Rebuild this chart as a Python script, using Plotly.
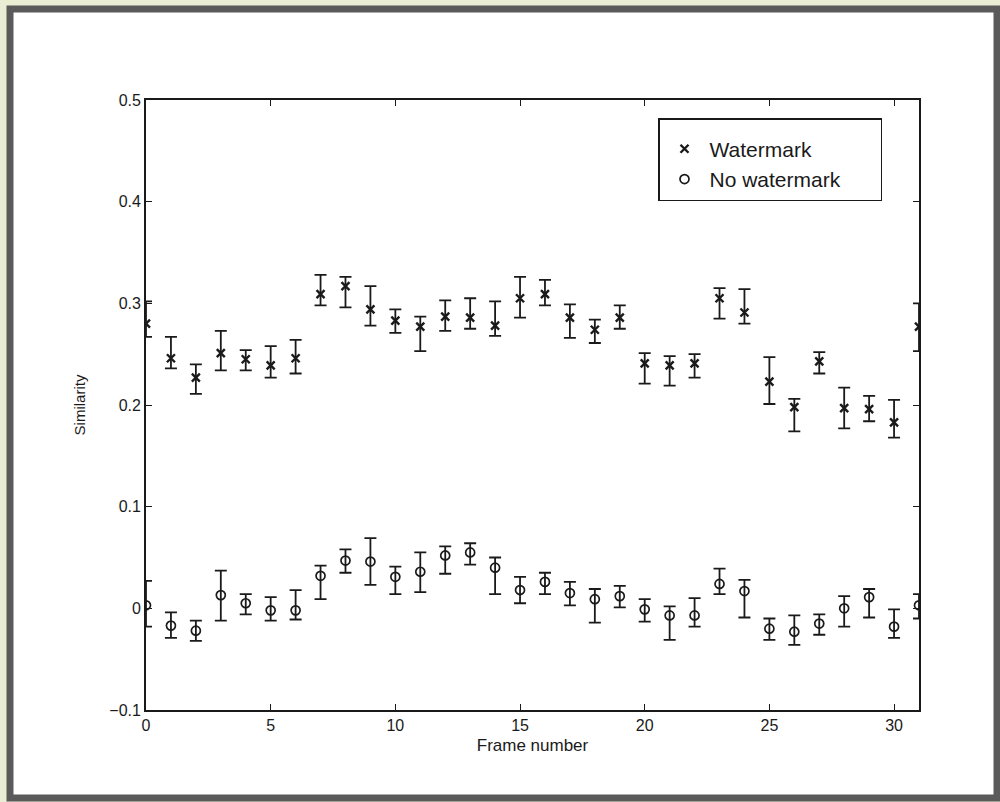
import plotly.graph_objects as go

frames = list(range(32))

wm_center = [0.280, 0.246, 0.227, 0.251, 0.245, 0.239, 0.246, 0.309, 0.317, 0.294,
             0.283, 0.277, 0.287, 0.286, 0.278, 0.305, 0.309, 0.286, 0.274, 0.286,
             0.241, 0.239, 0.241, 0.305, 0.291, 0.223, 0.198, 0.243, 0.197, 0.196,
             0.183, 0.277]
wm_upper = [0.302, 0.267, 0.240, 0.273, 0.254, 0.258, 0.264, 0.328, 0.326, 0.317,
            0.294, 0.287, 0.303, 0.305, 0.302, 0.326, 0.323, 0.299, 0.284, 0.298,
            0.251, 0.248, 0.250, 0.315, 0.314, 0.247, 0.206, 0.252, 0.217, 0.209,
            0.205, 0.300]
wm_lower = [0.267, 0.236, 0.211, 0.234, 0.234, 0.227, 0.231, 0.298, 0.296, 0.278,
            0.271, 0.253, 0.273, 0.275, 0.268, 0.286, 0.298, 0.266, 0.261, 0.275,
            0.221, 0.219, 0.227, 0.285, 0.280, 0.201, 0.174, 0.231, 0.177, 0.184,
            0.168, 0.253]

nw_center = [0.003, -0.017, -0.022, 0.013, 0.005, -0.002, -0.002, 0.032, 0.047, 0.046,
             0.031, 0.036, 0.052, 0.055, 0.040, 0.018, 0.026, 0.015, 0.009, 0.012,
             -0.001, -0.007, -0.007, 0.024, 0.017, -0.020, -0.023, -0.015, 0.000, 0.011,
             -0.018, 0.003]
nw_upper = [0.027, -0.004, -0.012, 0.037, 0.014, 0.011, 0.018, 0.042, 0.058, 0.069,
            0.041, 0.055, 0.061, 0.064, 0.050, 0.031, 0.035, 0.026, 0.019, 0.022,
            0.009, 0.002, 0.010, 0.039, 0.028, -0.010, -0.007, -0.006, 0.012, 0.019,
            -0.001, 0.014]
nw_lower = [-0.018, -0.029, -0.032, -0.012, -0.006, -0.012, -0.011, 0.009, 0.035, 0.023,
            0.014, 0.016, 0.034, 0.043, 0.014, 0.005, 0.014, 0.003, -0.014, 0.001,
            -0.013, -0.031, -0.018, 0.014, -0.009, -0.031, -0.036, -0.026, -0.018, -0.009,
            -0.029, -0.010]

series_names = ["Watermark", "No watermark"]

y_ticks = [-0.1, 0.0, 0.1, 0.2, 0.3, 0.4, 0.5]
y_ticktext = ["\u22120.1", "0", "0.1", "0.2", "0.3", "0.4", "0.5"]
x_ticks = [0, 5, 10, 15, 20, 25, 30]

ink = "#1a1a1a"
font_family = "Liberation Sans, Arial, Helvetica, sans-serif"
pad = "\u00a0" * 6


def err(center, upper, lower):
    plus = [u - c for u, c in zip(upper, center)]
    minus = [c - l for c, l in zip(center, lower)]
    return dict(type="data", symmetric=False, array=plus, arrayminus=minus,
                color=ink, thickness=1.8, width=6)


fig = go.Figure()
fig.add_trace(go.Scatter(
    x=frames, y=wm_center, mode="markers", name=series_names[0] + pad,
    legendgroup="a",
    marker=dict(symbol="x-thin", size=8, color=ink, line=dict(color=ink, width=2.4)),
    error_y=err(wm_center, wm_upper, wm_lower),
))
fig.add_trace(go.Scatter(
    x=frames, y=nw_center, mode="markers", name=series_names[1] + pad,
    legendgroup="b",
    marker=dict(symbol="circle-open", size=9, color=ink, line=dict(color=ink, width=1.7)),
    error_y=err(nw_center, nw_upper, nw_lower),
))

L, R, T, B = 146, 919, 100, 710
W, H = 1000, 802


def px_x(p):
    return (p - L) / (R - L)


def px_y(p):
    return (B - p) / (B - T)


fig.add_shape(type="rect", xref="paper", yref="paper",
              x0=px_x(10), x1=px_x(997), y0=px_y(798), y1=px_y(9),
              line=dict(color="#5a5a5a", width=7), fillcolor="white", layer="below")

fig.update_layout(
    width=W, height=H,
    margin=dict(l=L, r=W - R, t=T, b=H - B),
    paper_bgcolor="#e9edd3",
    plot_bgcolor="white",
    font=dict(family=font_family, size=15, color=ink),
    showlegend=True,
    legend=dict(x=px_x(658), y=px_y(118), xanchor="left", yanchor="top",
                bgcolor="white", bordercolor=ink, borderwidth=1.5,
                font=dict(size=21, color=ink), itemwidth=40,
                tracegroupgap=0,
                title=dict(text="\u00a0", font=dict(size=7))),
    xaxis=dict(range=[0, 31], tickvals=x_ticks, ticks="inside", ticklen=6,
               tickcolor=ink, showline=True, linecolor=ink, linewidth=1.8,
               mirror="ticks", showgrid=False, zeroline=False,
               title=dict(text="Frame number", font=dict(size=17), standoff=6),
               tickfont=dict(size=16)),
    yaxis=dict(range=[-0.1, 0.5], tickvals=y_ticks, ticktext=y_ticktext,
               ticks="inside", ticklen=6, tickcolor=ink, showline=True,
               linecolor=ink, linewidth=1.8, mirror="ticks", showgrid=False,
               zeroline=False,
               title=dict(text="Similarity", font=dict(size=15), standoff=20),
               tickfont=dict(size=16)),
)

fig.write_html(
    "out.html",
    config={"displayModeBar": False},
    post_script="document.body.style.margin='0';document.body.style.overflow='hidden';"
                "document.body.style.background='#e9edd3';",
)
